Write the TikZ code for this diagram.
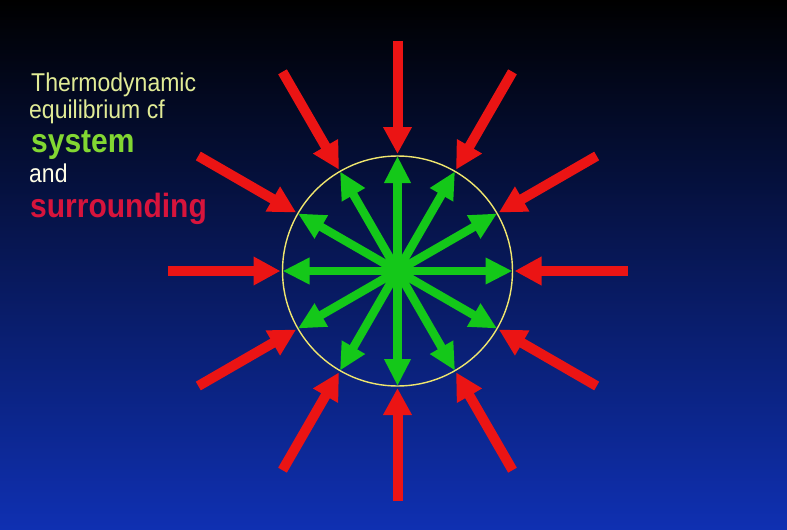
\documentclass[tikz,border=0pt]{standalone}
\usepackage{fontspec}
\setmainfont{Liberation Sans}
\usetikzlibrary{arrows.meta,calc}
\definecolor{bgtop}{RGB}{0,0,0}
\definecolor{bgmid}{RGB}{8,22,95}
\definecolor{bgbot}{RGB}{15,48,178}
\definecolor{sysgreen}{RGB}{20,200,25}
\definecolor{surred}{RGB}{235,20,20}
\definecolor{ringyellow}{RGB}{240,230,110}
\definecolor{titleyellow}{RGB}{225,235,150}
\definecolor{labelgreen}{RGB}{130,215,50}
\definecolor{labelred}{RGB}{215,20,60}
\tikzset{
  redarrow/.style={draw=surred, line width=10pt, -{Triangle[width=27pt,length=27pt]}},
  greenarrow/.style={draw=sysgreen, line width=8.5pt, -{Triangle[width=25pt,length=27pt]}},
  ring/.style={draw=ringyellow, line width=1.4pt},
  txt/.style={anchor=base west, inner sep=0pt, yscale=1.12},
}
\begin{document}
\begin{tikzpicture}[x=1pt,y=-1pt]
\useasboundingbox (0,0) rectangle (787,530);
\shade[top color=bgtop, middle color=bgmid, bottom color=bgbot] (0,0) rectangle (787,530);
\coordinate (c) at (397.5,271);
\node[ring, circle, minimum size=230pt, inner sep=0pt] (ringc) at (c) {};
\foreach \a in {0,30,...,330}{
  \coordinate (g\a) at ([shift={(\a:115)}]c);
  \coordinate (o\a) at ([shift={(\a:230)}]c);
  \coordinate (t\a) at ([shift={(\a:117)}]c);
  \draw[redarrow] (o\a) -- (t\a);
  \draw[greenarrow] (c) -- (g\a);
}
\fill[sysgreen] (c) circle (15pt);
\node[txt, text=titleyellow, font=\fontsize{23}{23}\selectfont] (l1) at (31,91) {Thermodynamic};
\node[txt, text=titleyellow, font=\fontsize{23}{23}\selectfont] (l2) at (29,118) {equilibrium cf};
\node[txt, text=labelgreen, font=\fontsize{30}{30}\selectfont\bfseries] (l3) at (31,152) {system};
\node[txt, text=white!90!yellow, font=\fontsize{23}{23}\selectfont] (l4) at (29,182) {and};
\node[txt, text=labelred, font=\fontsize{30}{30}\selectfont\bfseries] (l5) at (30,217) {surrounding};
\end{tikzpicture}
\end{document}
